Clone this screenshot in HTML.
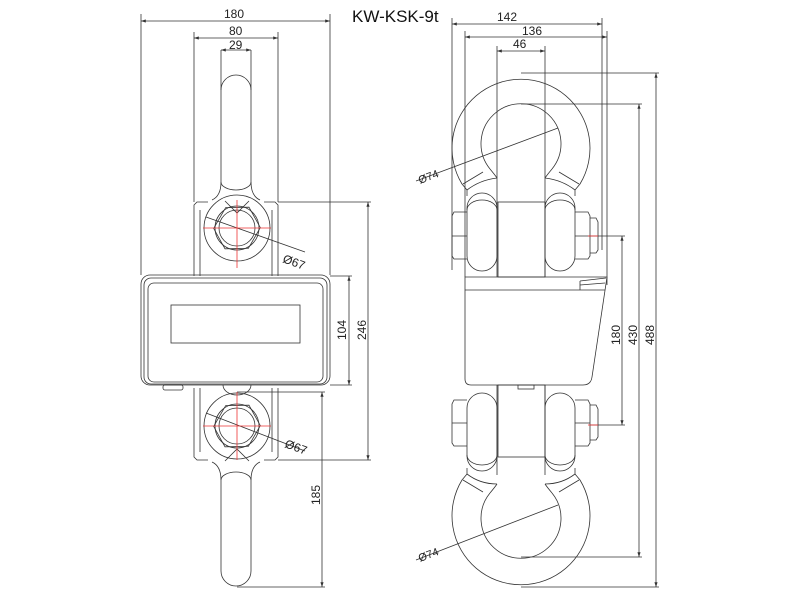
<!DOCTYPE html>
<html><head><meta charset="utf-8"><style>
html,body{margin:0;padding:0;background:#fff;}
svg{display:block;}
text{font-family:"Liberation Sans",sans-serif;fill:#222;}
</style></head><body>
<svg width="800" height="600" viewBox="0 0 800 600" xmlns="http://www.w3.org/2000/svg">
<defs>
<marker id="a" markerWidth="6" markerHeight="4" refX="6" refY="2" orient="auto-start-reverse"><path d="M0,0 L6,2 L0,4z" fill="#333"/></marker>
</defs>
<text x="352" y="22" font-size="17" style="fill:#111">KW-KSK-9t</text>
<g stroke="#333" stroke-width="0.8" fill="none">
<line x1="141" y1="14" x2="141" y2="275"/>
<line x1="330" y1="14" x2="330" y2="275"/>
<line x1="141" y1="21" x2="330" y2="21" marker-start="url(#a)" marker-end="url(#a)"/>
<line x1="194" y1="32" x2="194" y2="202"/>
<line x1="278" y1="32" x2="278" y2="202"/>
<line x1="194" y1="38" x2="278" y2="38" marker-start="url(#a)" marker-end="url(#a)"/>
<line x1="221" y1="50" x2="251" y2="50" marker-start="url(#a)" marker-end="url(#a)"/>
<line x1="221" y1="50" x2="221" y2="90"/><line x1="251" y1="50" x2="251" y2="90"/>
<path d="M221,182 V90 A15,15 0 0 1 251,90 V182"/>
<path d="M221,182 A15,8 0 0 0 251,182"/>
<path d="M221,182 Q221,196 212,200 M251,182 Q251,196 260,200"/>
<path d="M194,276 V205 L197,202 H208 M278,276 V205 L275,202 H264"/>
<path d="M200,276 V210 M272,276 V210"/>
<circle cx="237" cy="228" r="33"/>
<path d="M237,204 L257,216 L257,240 L237,252 L217,240 L217,216Z" transform="rotate(30 237 228)"/>
<circle cx="237" cy="228" r="22"/><circle cx="237" cy="228" r="18"/>
<path d="M225,201 L237,213 L249,201"/>
<rect x="141" y="275" width="189" height="110" rx="9"/>
<rect x="144" y="278" width="183" height="106" rx="7"/>
<rect x="148" y="283" width="175" height="99" rx="6"/>
<rect x="171" y="305" width="129" height="38"/>
<rect x="163" y="385" width="20" height="5" rx="2"/>
<path d="M194,388 V457 L197,460 H208 M278,388 V457 L275,460 H264"/>
<path d="M200,388 V452 M272,388 V452"/>
<path d="M223,385 A14,10 0 0 0 251,385"/>
<circle cx="237" cy="426" r="33"/>
<path d="M237,402 L257,414 L257,438 L237,450 L217,438 L217,414Z" transform="rotate(30 237 426)"/>
<circle cx="237" cy="426" r="22"/><circle cx="237" cy="426" r="18"/>
<path d="M225,461 L237,449 L249,461"/>
<path d="M212,462 Q221,466 221,480 M260,462 Q251,466 251,480"/>
<path d="M221,480 A15,8 0 0 1 251,480"/>
<path d="M221,480 V571 A15,15 0 0 0 251,571 V480"/>
<line x1="330" y1="276" x2="352" y2="276"/><line x1="330" y1="385" x2="352" y2="385"/>
<line x1="349" y1="276" x2="349" y2="385" marker-start="url(#a)" marker-end="url(#a)"/>
<line x1="278" y1="202" x2="371" y2="202"/><line x1="278" y1="460" x2="371" y2="460"/>
<line x1="368" y1="202" x2="368" y2="460" marker-start="url(#a)" marker-end="url(#a)"/>
<line x1="237" y1="392" x2="325" y2="392"/><line x1="237" y1="587" x2="325" y2="587"/>
<line x1="322" y1="392" x2="322" y2="587" marker-start="url(#a)" marker-end="url(#a)"/>
<line x1="206" y1="217" x2="305" y2="252"/>
<line x1="206" y1="413" x2="305" y2="451"/>

<line x1="452" y1="18" x2="452" y2="270"/>
<line x1="602" y1="18" x2="602" y2="250"/>
<line x1="452" y1="24" x2="602" y2="24" marker-start="url(#a)" marker-end="url(#a)"/>
<line x1="465" y1="31" x2="465" y2="277"/>
<line x1="607" y1="31" x2="607" y2="285"/>
<line x1="465" y1="37" x2="607" y2="37" marker-start="url(#a)" marker-end="url(#a)"/>
<line x1="497" y1="46" x2="497" y2="277"/>
<line x1="545" y1="46" x2="545" y2="277"/>
<line x1="497" y1="51" x2="545" y2="51" marker-start="url(#a)" marker-end="url(#a)"/>
<path d="M467,190 L462,184 A69,69 0 1 1 580,184 L575,190 V196"/>
<path d="M467,190 V196"/>
<path d="M490,169 A40,40 0 1 1 552,169"/>
<path d="M490,169 Q495,175 497,178 M552,169 Q547,175 545,178"/>
<path d="M463,184 L483,172 M579,184 L559,172"/>
<path d="M467,190 Q480,180 497,178 M575,190 Q562,180 545,178"/>
<rect x="467" y="193" width="30" height="78" rx="15"/>
<rect x="545" y="193" width="30" height="78" rx="15"/>
<path d="M467,210 A15,10 0 0 1 497,210 M545,210 A15,10 0 0 1 575,210"/>
<path d="M467,212 H454 L452,216 V256 L454,259 H467 M452,236 H467"/>
<path d="M575,212 H588 L590,216 V256 L588,259 H575 M575,236 H590"/>
<path d="M590,218 H596 L598,222 V250 L596,253 H590"/>
<rect x="498" y="202" width="47" height="75"/>
<path d="M465,277 H607 L592,377 Q591,385 583,385 H471 Q465,385 465,379 Z"/>
<line x1="465" y1="290" x2="605" y2="290"/>
<path d="M580,281 L606,278 M580,285 L605,283 M580,281 V290"/>
<rect x="518" y="385" width="16" height="4"/>
<rect x="498" y="385" width="47" height="72"/>
<line x1="497" y1="385" x2="497" y2="475"/><line x1="545" y1="385" x2="545" y2="475"/>
<rect x="467" y="393" width="30" height="78" rx="15"/>
<rect x="545" y="393" width="30" height="78" rx="15"/>
<path d="M467,455 A15,10 0 0 0 497,455 M545,455 A15,10 0 0 0 575,455"/>
<path d="M467,400 H454 L452,404 V443 L454,446 H467 M452,423 H467"/>
<path d="M575,400 H588 L590,404 V443 L588,446 H575 M575,423 H590"/>
<path d="M590,405 H596 L598,409 V437 L596,440 H590"/>
<path d="M467,468 V474 L462,480 A69,69 0 1 0 580,480 L575,474 V468"/>
<path d="M490,493 A40,40 0 1 0 552,493"/>
<path d="M490,493 Q495,487 497,484 M552,493 Q547,487 545,484"/>
<path d="M463,480 L483,492 M579,480 L559,492"/>
<path d="M467,474 Q480,484 497,484 M575,474 Q562,484 545,484"/>
<line x1="590" y1="236" x2="625" y2="236"/><line x1="590" y1="425" x2="625" y2="425"/>
<line x1="622" y1="236" x2="622" y2="425" marker-start="url(#a)" marker-end="url(#a)"/>
<line x1="521" y1="104" x2="642" y2="104"/><line x1="521" y1="557" x2="642" y2="557"/>
<line x1="639" y1="104" x2="639" y2="557" marker-start="url(#a)" marker-end="url(#a)"/>
<line x1="521" y1="73" x2="659" y2="73"/><line x1="521" y1="587" x2="659" y2="587"/>
<line x1="656" y1="73" x2="656" y2="587" marker-start="url(#a)" marker-end="url(#a)"/>
<line x1="416" y1="181" x2="558" y2="128"/>
<line x1="416" y1="560" x2="558" y2="505"/>
</g>
<g stroke="#e33" stroke-width="0.8">
<line x1="237" y1="200" x2="237" y2="268"/><line x1="203" y1="228" x2="271" y2="228"/>
<line x1="237" y1="392" x2="237" y2="460"/><line x1="203" y1="426" x2="271" y2="426"/>
<line x1="588" y1="236" x2="598" y2="236"/><line x1="588" y1="425" x2="598" y2="425"/>
</g>
<g font-size="12">
<text x="224" y="18">180</text>
<text x="229" y="35">80</text>
<text x="229" y="49">29</text>
<text x="497" y="21">142</text>
<text x="522" y="35">136</text>
<text x="513" y="48">46</text>
<text transform="translate(282,262) rotate(20)">Ø67</text>
<text transform="translate(284,447) rotate(20)">Ø67</text>
<text transform="translate(420,184) rotate(-21)" font-size="11">Ø74</text>
<text transform="translate(420,562) rotate(-21)" font-size="11">Ø74</text>
<text transform="translate(346,340) rotate(-90)">104</text>
<text transform="translate(366,340) rotate(-90)">246</text>
<text transform="translate(320,505) rotate(-90)">185</text>
<text transform="translate(620,345) rotate(-90)">180</text>
<text transform="translate(637,345) rotate(-90)">430</text>
<text transform="translate(654,345) rotate(-90)">488</text>
</g>
</svg>
</body></html>
